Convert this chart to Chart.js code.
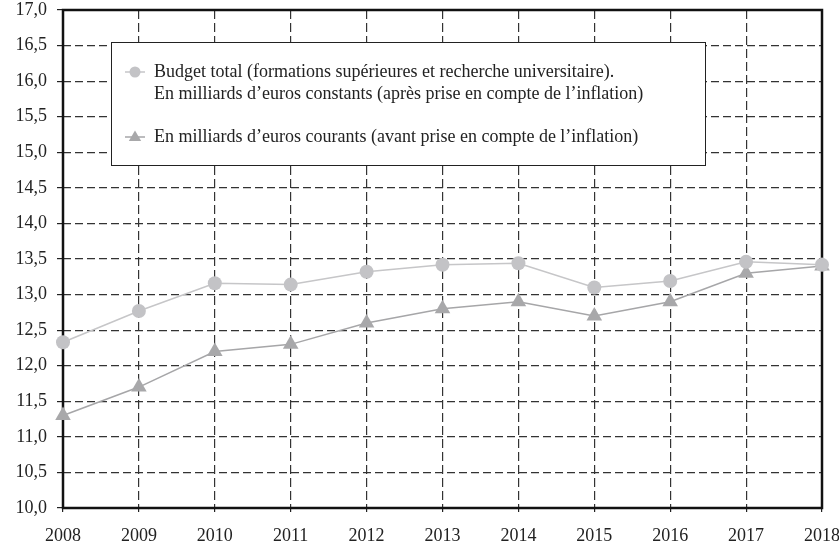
<!DOCTYPE html>
<html>
<head>
<meta charset="utf-8">
<script src="https://cdn.jsdelivr.net/npm/chart.js@4.4.1/dist/chart.umd.min.js"></script>
<style>
  html, body { margin: 0; padding: 0; background: #fff; }
  #wrap { width: 839px; height: 547px; }
</style>
</head>
<body>
<div id="wrap"><canvas id="budgetChart"></canvas></div>
<script>
const years = ['2008', '2009', '2010', '2011', '2012', '2013', '2014', '2015', '2016', '2017', '2018'];
const budgetConstants = [12.33, 12.77, 13.16, 13.14, 13.32, 13.42, 13.44, 13.10, 13.19, 13.46, 13.42];
const budgetCourants = [11.3, 11.7, 12.2, 12.3, 12.6, 12.8, 12.9, 12.7, 12.9, 13.3, 13.4];
const seriesLabels = [
  'Budget total (formations supérieures et recherche universitaire).\nEn milliards d’euros constants (après prise en compte de l’inflation)',
  'En milliards d’euros courants (avant prise en compte de l’inflation)'
];
const yMin = 10, yMax = 17, yStep = 0.5;

const FONT = '"Liberation Serif", "Times New Roman", serif';
const TEXT = '#222';

// thick black frame around the plot, on top of the dashed grid
const frame = {
  id: 'frame',
  beforeDatasetsDraw(chart) {
    const { ctx, chartArea: a } = chart;
    ctx.save();
    ctx.strokeStyle = '#111';
    ctx.lineWidth = 2.5;
    ctx.strokeRect(a.left, a.top, a.right - a.left, a.bottom - a.top);
    ctx.restore();
  }
};

// boxed legend inside the plot, first entry on two lines
const legendBox = {
  id: 'legendBox',
  afterDatasetsDraw(chart, args, opts) {
    const ctx = chart.ctx;
    ctx.save();
    ctx.fillStyle = '#fff';
    ctx.fillRect(opts.x, opts.y, opts.w, opts.h);
    ctx.strokeStyle = '#222';
    ctx.lineWidth = 1;
    ctx.strokeRect(opts.x + 0.5, opts.y + 0.5, opts.w, opts.h);

    ctx.font = '18px ' + FONT;
    ctx.textBaseline = 'middle';
    let y = opts.y + opts.firstRow;
    chart.data.datasets.forEach(ds => {
      const mx = opts.x + opts.markerX;
      ctx.strokeStyle = ds.borderColor;
      ctx.lineWidth = 1.5;
      ctx.beginPath();
      ctx.moveTo(mx - 10, y);
      ctx.lineTo(mx + 10, y);
      ctx.stroke();
      ctx.fillStyle = ds.pointBackgroundColor;
      ctx.beginPath();
      if (ds.pointStyle === 'triangle') {
        const r = 6.5;
        ctx.moveTo(mx, y - r);
        ctx.lineTo(mx + r * 0.95, y + r * 0.6);
        ctx.lineTo(mx - r * 0.95, y + r * 0.6);
        ctx.closePath();
      } else {
        ctx.arc(mx, y, 5.5, 0, Math.PI * 2);
      }
      ctx.fill();

      ctx.fillStyle = TEXT;
      const lines = ds.label.split('\n');
      lines.forEach((line, i) => {
        ctx.fillText(line, opts.x + opts.textX, y + i * opts.lineH);
      });
      y += (lines.length - 1) * opts.lineH + opts.gap;
    });
    ctx.restore();
  }
};

const ctx = document.getElementById('budgetChart').getContext('2d');
new Chart(ctx, {
  type: 'line',
  data: {
    labels: years,
    datasets: [
      {
        label: seriesLabels[0],
        data: budgetConstants,
        borderColor: '#c6c6c8',
        borderWidth: 1.5,
        pointStyle: 'circle',
        pointRadius: 7,
        pointBackgroundColor: '#c3c3c6',
        pointBorderWidth: 0,
        clip: false
      },
      {
        label: seriesLabels[1],
        data: budgetCourants,
        borderColor: '#a6a6a8',
        borderWidth: 1.5,
        pointStyle: 'triangle',
        pointRadius: 9,
        pointBackgroundColor: '#a8a8aa',
        pointBorderWidth: 0,
        clip: false
      }
    ]
  },
  options: {
    responsive: true,
    maintainAspectRatio: false,
    animation: false,
    layout: { padding: { top: 10, right: 17, left: 0, bottom: 0 } },
    plugins: {
      legend: { display: false },
      tooltip: { enabled: false },
      legendBox: { x: 111, y: 42, w: 594, h: 123, firstRow: 30, markerX: 24, textX: 43, lineH: 22, gap: 43 }
    },
    scales: {
      x: {
        offset: false,
        // fixed axis height, no extra room reserved for the end labels
        afterFit: s => { s.height = 39; s.paddingLeft = 0; s.paddingRight = 0; },
        grid: { color: '#333', lineWidth: 1.2, tickLength: 4, tickColor: '#222', tickBorderDash: [] },
        border: { display: false, dash: [9, 4] },
        ticks: { color: TEXT, font: { family: FONT, size: 18 }, padding: 13, maxRotation: 0, autoSkip: false }
      },
      y: {
        min: yMin,
        max: yMax,
        afterFit: s => { s.width = 63; s.paddingTop = 0; s.paddingBottom = 0; },
        grid: { color: '#333', lineWidth: 1.2, tickLength: 6, tickColor: '#222', tickBorderDash: [] },
        border: { display: false, dash: [8, 4] },
        ticks: {
          stepSize: yStep,
          color: TEXT,
          font: { family: FONT, size: 18 },
          padding: 10,
          callback: v => v.toFixed(1).replace('.', ',')
        }
      }
    }
  },
  plugins: [frame, legendBox]
});
</script>
</body>
</html>
